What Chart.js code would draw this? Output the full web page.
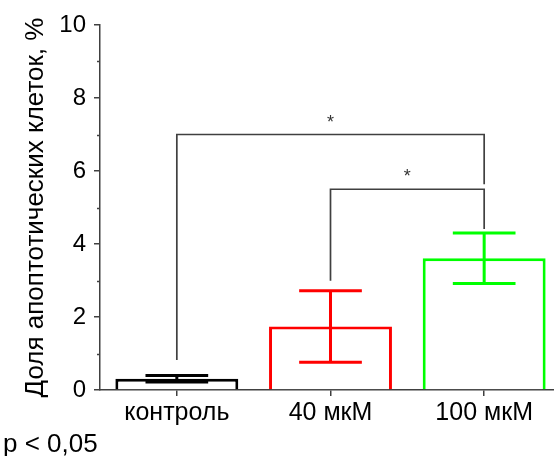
<!DOCTYPE html>
<html>
<head>
<meta charset="utf-8">
<script src="https://cdn.jsdelivr.net/npm/chart.js@4/dist/chart.umd.min.js"></script>
<style>
    html, body { margin: 0; padding: 0; overflow: hidden; background: #fff; }
    #wrap { width: 562px; height: 456px; }
</style>
</head>
<body>
<div id="wrap"><canvas id="chartApoptosis" width="562" height="456"></canvas></div>
<script>
const categories = ["контроль", "40 мкМ", "100 мкМ"];
const means = [0.31, 1.74, 3.61];
const errors = [0.09, 0.98, 0.69];
const barColors = ["#000000", "#ff0000", "#00ff00"];

// significance brackets: categories joined, top of the bracket, ends of the legs
const bracketFrom = [0, 1];
const bracketTo = [2, 2];
const bracketTop = [7.0, 5.5];
const bracketLeftEnd = [0.82, 2.99];
const bracketRightEnd = [5.64, 4.41];
const bracketMark = ["*", "*"];

const minorTicks = [1, 3, 5, 7, 9];
const noteText = "p < 0,05";

const FONT = "'Liberation Sans', Arial, sans-serif";
const AXIS = "#404040";

const extrasPlugin = {
    id: "extras",
    afterDatasetsDraw(chart) {
        const ctx = chart.ctx;
        const x = chart.scales.x;
        const y = chart.scales.y;
        const meta = chart.getDatasetMeta(0);

        ctx.save();
        // error bars
        meta.data.forEach((bar, i) => {
            const cx = bar.x;
            const half = bar.width * 0.255;
            const top = y.getPixelForValue(means[i] + errors[i]);
            const bot = y.getPixelForValue(means[i] - errors[i]);
            ctx.strokeStyle = barColors[i];
            ctx.lineWidth = 3;
            ctx.beginPath();
            ctx.moveTo(cx, top);
            ctx.lineTo(cx, bot);
            ctx.moveTo(cx - half, top);
            ctx.lineTo(cx + half, top);
            ctx.moveTo(cx - half, bot);
            ctx.lineTo(cx + half, bot);
            ctx.stroke();
        });

        // brackets
        ctx.strokeStyle = AXIS;
        ctx.lineWidth = 1.7;
        ctx.fillStyle = "#333";
        ctx.font = "18px " + FONT;
        ctx.textAlign = "center";
        ctx.textBaseline = "alphabetic";
        bracketFrom.forEach((f, k) => {
            const x1 = x.getPixelForValue(f);
            const x2 = x.getPixelForValue(bracketTo[k]);
            const yt = y.getPixelForValue(bracketTop[k]);
            ctx.beginPath();
            ctx.moveTo(x1, y.getPixelForValue(bracketLeftEnd[k]));
            ctx.lineTo(x1, yt);
            ctx.lineTo(x2, yt);
            ctx.lineTo(x2, y.getPixelForValue(bracketRightEnd[k]));
            ctx.stroke();
            ctx.fillText(bracketMark[k], (x1 + x2) / 2, yt - 7);
        });

        // minor ticks on the y axis
        ctx.lineWidth = 1.5;
        minorTicks.forEach(v => {
            const py = Math.round(y.getPixelForValue(v)) + 0.5;
            ctx.beginPath();
            ctx.moveTo(chart.chartArea.left - 3, py);
            ctx.lineTo(chart.chartArea.left, py);
            ctx.stroke();
        });

        // p value note
        ctx.fillStyle = "#000";
        ctx.font = "26px " + FONT;
        ctx.textAlign = "left";
        ctx.fillText(noteText, 3, 452);
        ctx.restore();
    }
};

const ctx = document.getElementById("chartApoptosis").getContext("2d");

new Chart(ctx, {
    type: "bar",
    data: {
        labels: categories,
        datasets: [{
            data: means,
            backgroundColor: "#ffffff",
            borderColor: barColors,
            borderWidth: 3,
            categoryPercentage: 1.0,
            barPercentage: 0.8
        }]
    },
    options: {
        responsive: false,
        animation: false,
        layout: { padding: { top: 25, right: 1, bottom: 0, left: 0 } },
        plugins: {
            legend: { display: false },
            tooltip: { enabled: false }
        },
        scales: {
            x: {
                offset: true,
                afterFit: s => { s.height = 66; },
                border: { display: true, color: AXIS, width: 1.5 },
                grid: { drawOnChartArea: false, drawTicks: true, tickLength: 6, color: AXIS, lineWidth: 1.5, offset: false },
                ticks: { color: "#000", font: { family: FONT, size: 25 }, padding: 2, maxRotation: 0, autoSkip: false }
            },
            y: {
                min: 0,
                max: 10,
                afterFit: s => { s.width = 100; },
                border: { display: true, color: AXIS, width: 1.5 },
                grid: { drawOnChartArea: false, drawTicks: true, tickLength: 6, color: AXIS, lineWidth: 1.5 },
                ticks: { stepSize: 2, color: "#000", font: { family: FONT, size: 24 }, padding: 8 },
                title: {
                    display: true,
                    text: "Доля апоптотических клеток, %",
                    color: "#000",
                    font: { family: FONT, size: 26 },
                    padding: { top: 20, bottom: 0 }
                }
            }
        }
    },
    plugins: [extrasPlugin]
});
</script>
</body>
</html>
